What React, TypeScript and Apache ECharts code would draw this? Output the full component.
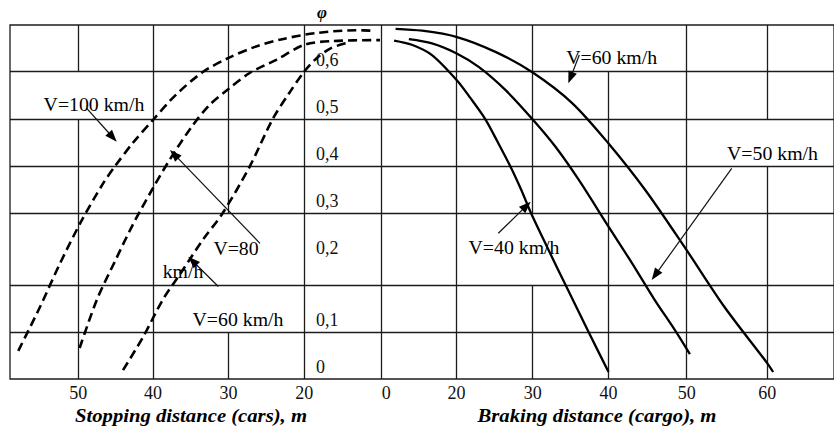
import React, { useEffect, useRef } from "react";
import * as echarts from "echarts";

// ---- Data ----
// Stopping distance (cars), m  and adhesion coefficient φ
const CAR_V100_DIST = [58.0, 55.1, 52.4, 49.5, 46.7, 45.1, 42.7, 40.0, 37.0, 33.4, 30.0, 26.6, 22.9, 16.9, 6.4, 2.5];
const CAR_V100_PHI = [0.045, 0.125, 0.186, 0.270, 0.347, 0.384, 0.434, 0.483, 0.536, 0.585, 0.615, 0.638, 0.655, 0.668, 0.674, 0.673];
const CAR_V80_DIST = [49.8, 47.5, 45.1, 42.7, 40.0, 37.8, 34.9, 32.5, 30.0, 27.2, 23.7, 20.0, 12.7, 0.2];
const CAR_V80_PHI = [0.051, 0.135, 0.188, 0.260, 0.338, 0.398, 0.468, 0.515, 0.549, 0.583, 0.611, 0.643, 0.651, 0.653];
const CAR_V60_DIST = [44.0, 41.3, 38.7, 36.2, 33.4, 30.8, 27.2, 24.2, 22.0, 20.0, 16.7, 13.0, 8.8];
const CAR_V60_PHI = [0.004, 0.075, 0.135, 0.174, 0.228, 0.284, 0.384, 0.484, 0.540, 0.586, 0.615, 0.636, 0.647];

// Braking distance (cargo), m and φ
const CARGO_V40_DIST = [3.5, 8.2, 13.5, 20.0, 21.8, 23.8, 25.4, 27.1, 28.5, 29.8, 32.1, 34.4, 37.4, 40.0];
const CARGO_V40_PHI = [0.652, 0.643, 0.621, 0.568, 0.53, 0.484, 0.436, 0.383, 0.334, 0.284, 0.206, 0.154, 0.084, 0.0];
const CARGO_V50_DIST = [7.4, 13.5, 19.9, 22.9, 26.4, 30.0, 33.0, 36.1, 40.0, 43.0, 45.9, 48.5, 50.4];
const CARGO_V50_PHI = [0.655, 0.646, 0.625, 0.596, 0.547, 0.484, 0.426, 0.355, 0.256, 0.186, 0.135, 0.089, 0.038];
const CARGO_V60_DIST = [3.9, 10.9, 19.9, 25.1, 30.0, 35.2, 40.0, 44.7, 50.0, 54.7, 60.0, 60.75];
const CARGO_V60_PHI = [0.677, 0.673, 0.66, 0.628, 0.584, 0.519, 0.433, 0.334, 0.206, 0.125, 0.019, 0.0];

// Tick labels
const CAR_TICKS = [50, 40, 30, 20];
const ORIGIN_TICK = "0";
const CARGO_TICKS = [20, 30, 40, 50, 60];
const PHI_TICKS = [0, 0.1, 0.2, 0.3, 0.4, 0.5, 0.6];
// φ levels of the drawn row boundaries of the figure's grid
const ROW_LINES_PHI = [0.0836, 0.1546, 0.2845, 0.3836, 0.4845, 0.5857];

// ---- Figure's (broken / non-linear) scales ----
const CAR_SCALE = [[0, 371.7], [20, 295], [30, 219], [40, 143.3], [50, 68.3], [60, -6.7]];
const CARGO_SCALE = [[0, 371.7], [20, 447.7], [30, 524], [40, 600], [50, 678.3], [60, 759], [70, 839]];
const PHI_SCALE = [[-0.1, -40], [0, 7], [0.1, 54], [0.2, 126], [0.7, 361]];
const X_MAX = 826;
const Y_MAX = 354;

function interp(knots: number[][], v: number) {
  let i = 0;
  while (i < knots.length - 2 && v > knots[i + 1][0]) i++;
  const [a0, b0] = knots[i];
  const [a1, b1] = knots[i + 1];
  return b0 + ((v - a0) * (b1 - b0)) / (a1 - a0);
}
const carX = (d: number) => interp(CAR_SCALE, d);
const cargoX = (d: number) => interp(CARGO_SCALE, d);
const phiY = (p: number) => interp(PHI_SCALE, p);

const SERIF = "Liberation Serif";
const NARROW = "Liberation Sans Narrow";

function arrow(x1: number, y1: number, x2: number, y2: number) {
  const dx = x2 - x1, dy = y2 - y1;
  const len = Math.hypot(dx, dy);
  const ux = dx / len, uy = dy / len;
  const L = 12, W = 4.5;
  const bx = x2 - ux * L, by = y2 - uy * L;
  return [
    { type: "line", shape: { x1, y1, x2: bx + ux * 2, y2: by + uy * 2 }, style: { stroke: "#111", lineWidth: 1.2 }, z: 50 },
    {
      type: "polygon",
      shape: { points: [[x2, y2], [bx - uy * W, by + ux * W], [bx + uy * W, by - ux * W]] },
      style: { fill: "#000" },
      z: 50,
    },
  ];
}

function label(text: string, x: number, y: number, sx = 1.1, size = 18, font = SERIF, weight = "normal", styleName = "normal") {
  return {
    type: "text",
    x, y, scaleX: sx,
    z: 50,
    style: {
      text, x: 0, y: 0, align: "center", verticalAlign: "middle",
      font: `${styleName} ${weight} ${size}px ${font}`,
      fontSize: size, fontFamily: font, fontWeight: weight, fontStyle: styleName, fill: "#000",
    },
  };
}

export default function App() {
  const ref = useRef<HTMLDivElement>(null);
  useEffect(() => {
    if (!ref.current) return;
    const chart = echarts.init(ref.current, null, { renderer: "svg" });

    const xTickVals = [...CAR_TICKS.map(carX), cargoX(0), ...CARGO_TICKS.map(cargoX)];
    const xTickTxt = [...CAR_TICKS.map(String), ORIGIN_TICK, ...CARGO_TICKS.map(String)];
    const yTickVals = PHI_TICKS.map((p) => phiY(p) + 5);
    const yTickTxt = PHI_TICKS.map((p) => (p === 0 ? "0" : p.toFixed(1).replace(".", ",")));
    const lookup = (vals: number[], txt: string[], v: number) => {
      let best = 0;
      vals.forEach((u, i) => { if (Math.abs(u - v) < Math.abs(vals[best] - v)) best = i; });
      return txt[best];
    };

    const rowEdges = [0, ...ROW_LINES_PHI.map(phiY), Y_MAX];
    const gridSegs: any[] = [];
    const hseg = (y: number) => gridSegs.push([{ coord: [0, y] }, { coord: [X_MAX, y] }]);
    ROW_LINES_PHI.forEach((p) => hseg(phiY(p)));
    const vLines: { x: number; gap?: [number, number] }[] = [
      { x: carX(50), gap: [5, 6] },
      { x: carX(40) },
      { x: carX(30), gap: [1, 3] },
      { x: carX(20) },
      { x: cargoX(0) },
      { x: cargoX(20) },
      { x: cargoX(30), gap: [2, 3] },
      { x: cargoX(40), gap: [6, 7] },
      { x: cargoX(50) },
      { x: cargoX(60), gap: [4, 5] },
    ];
    vLines.forEach((l) => {
      if (!l.gap) {
        gridSegs.push([{ coord: [l.x, 0] }, { coord: [l.x, Y_MAX] }]);
      } else {
        const g0 = rowEdges[l.gap[0]], g1 = rowEdges[l.gap[1]];
        if (g0 > 0) gridSegs.push([{ coord: [l.x, 0] }, { coord: [l.x, g0] }]);
        if (g1 < Y_MAX) gridSegs.push([{ coord: [l.x, g1] }, { coord: [l.x, Y_MAX] }]);
      }
    });

    const carSeries = (name: string, dist: number[], phi: number[]) => ({
      name, type: "line", showSymbol: false, smooth: 0.3, z: 5,
      data: dist.map((d, i) => [carX(d), phiY(phi[i])]),
      lineStyle: { color: "#000", width: 2.6, type: [9, 5] },
    });
    const cargoSeries = (name: string, dist: number[], phi: number[]) => ({
      name, type: "line", showSymbol: false, smooth: 0.3, z: 5,
      data: dist.map((d, i) => [cargoX(d), phiY(phi[i])]),
      lineStyle: { color: "#000", width: 2.3, type: "solid" },
    });

    const option: any = {
      animation: false,
      backgroundColor: "#fff",
      textStyle: { fontFamily: SERIF },
      grid: { left: 10, top: 25, width: X_MAX, height: Y_MAX, show: true, borderColor: "#1c1c1c", borderWidth: 1.3 },
      xAxis: {
        type: "value", min: 0, max: X_MAX,
        splitLine: { show: false }, axisTick: { show: false }, axisLine: { show: false },
        axisLabel: {
          customValues: xTickVals,
          margin: 5,
          fontSize: 18, fontFamily: NARROW, color: "#111",
          formatter: (v: number) => {
            const t = lookup(xTickVals, xTickTxt, v);
            return Math.abs(v - cargoX(0)) < 0.5 ? "{z|" + t + "}" : t;
          },
          rich: { z: { padding: [0, 0, 0, 11], fontSize: 18, fontFamily: NARROW, color: "#111" } },
        },
      },
      yAxis: {
        type: "value", min: 0, max: Y_MAX, position: "left", offset: -(carX(20)),
        splitLine: { show: false }, axisTick: { show: false }, axisLine: { show: false },
        axisLabel: {
          inside: true, margin: 11, customValues: yTickVals,
          fontSize: 18, fontFamily: NARROW, color: "#111",
          formatter: (v: number) => lookup(yTickVals, yTickTxt, v),
        },
      },
      series: [
        {
          name: "grid", type: "line", data: [], silent: true, z: 1,
          markLine: {
            silent: true, symbol: ["none", "none"], animation: false,
            label: { show: false },
            lineStyle: { color: "#1c1c1c", width: 1.3, type: "solid" },
            emphasis: { disabled: true },
            data: gridSegs,
          },
        },
        carSeries("V=100 km/h", CAR_V100_DIST, CAR_V100_PHI),
        carSeries("V=80 km/h", CAR_V80_DIST, CAR_V80_PHI),
        carSeries("V=60 km/h (cars)", CAR_V60_DIST, CAR_V60_PHI),
        cargoSeries("V=40 km/h", CARGO_V40_DIST, CARGO_V40_PHI),
        cargoSeries("V=50 km/h", CARGO_V50_DIST, CARGO_V50_PHI),
        cargoSeries("V=60 km/h (cargo)", CARGO_V60_DIST, CARGO_V60_PHI),
      ],
      graphic: [
        label("\u03c6", 322, 12, 1, 17, SERIF, "bold", "italic"),
        label("Stopping distance (cars), m", 191, 416, 1.15, 18, SERIF, "bold", "italic"),
        label("Braking distance (cargo), m", 597, 416, 1.15, 18, SERIF, "bold", "italic"),
        label("V=100 km/h", 94, 105),
        label("V=80", 236, 248.5),
        label("km/h", 183, 271.5),
        label("V=60 km/h", 238, 319.5),
        label("V=60 km/h", 611.7, 58.3),
        label("V=50 km/h", 772.5, 154),
        label("V=40 km/h", 514, 247.5),
        ...arrow(86.7, 108.3, 116.7, 141.7),
        ...arrow(260, 243.3, 170, 150),
        ...arrow(218.3, 286.5, 188.3, 256.7),
        ...arrow(579.3, 55, 568.3, 83.3),
        ...arrow(731.7, 168.3, 651.7, 280),
        ...arrow(498.3, 233.3, 530.7, 201.7),
      ],
    };
    chart.setOption(option);
    return () => chart.dispose();
  }, []);
  return (
    <div
      ref={ref}
      style={{ position: "fixed", left: 0, top: 0, width: 834, height: 426, background: "#fff" }}
    />
  );
}
